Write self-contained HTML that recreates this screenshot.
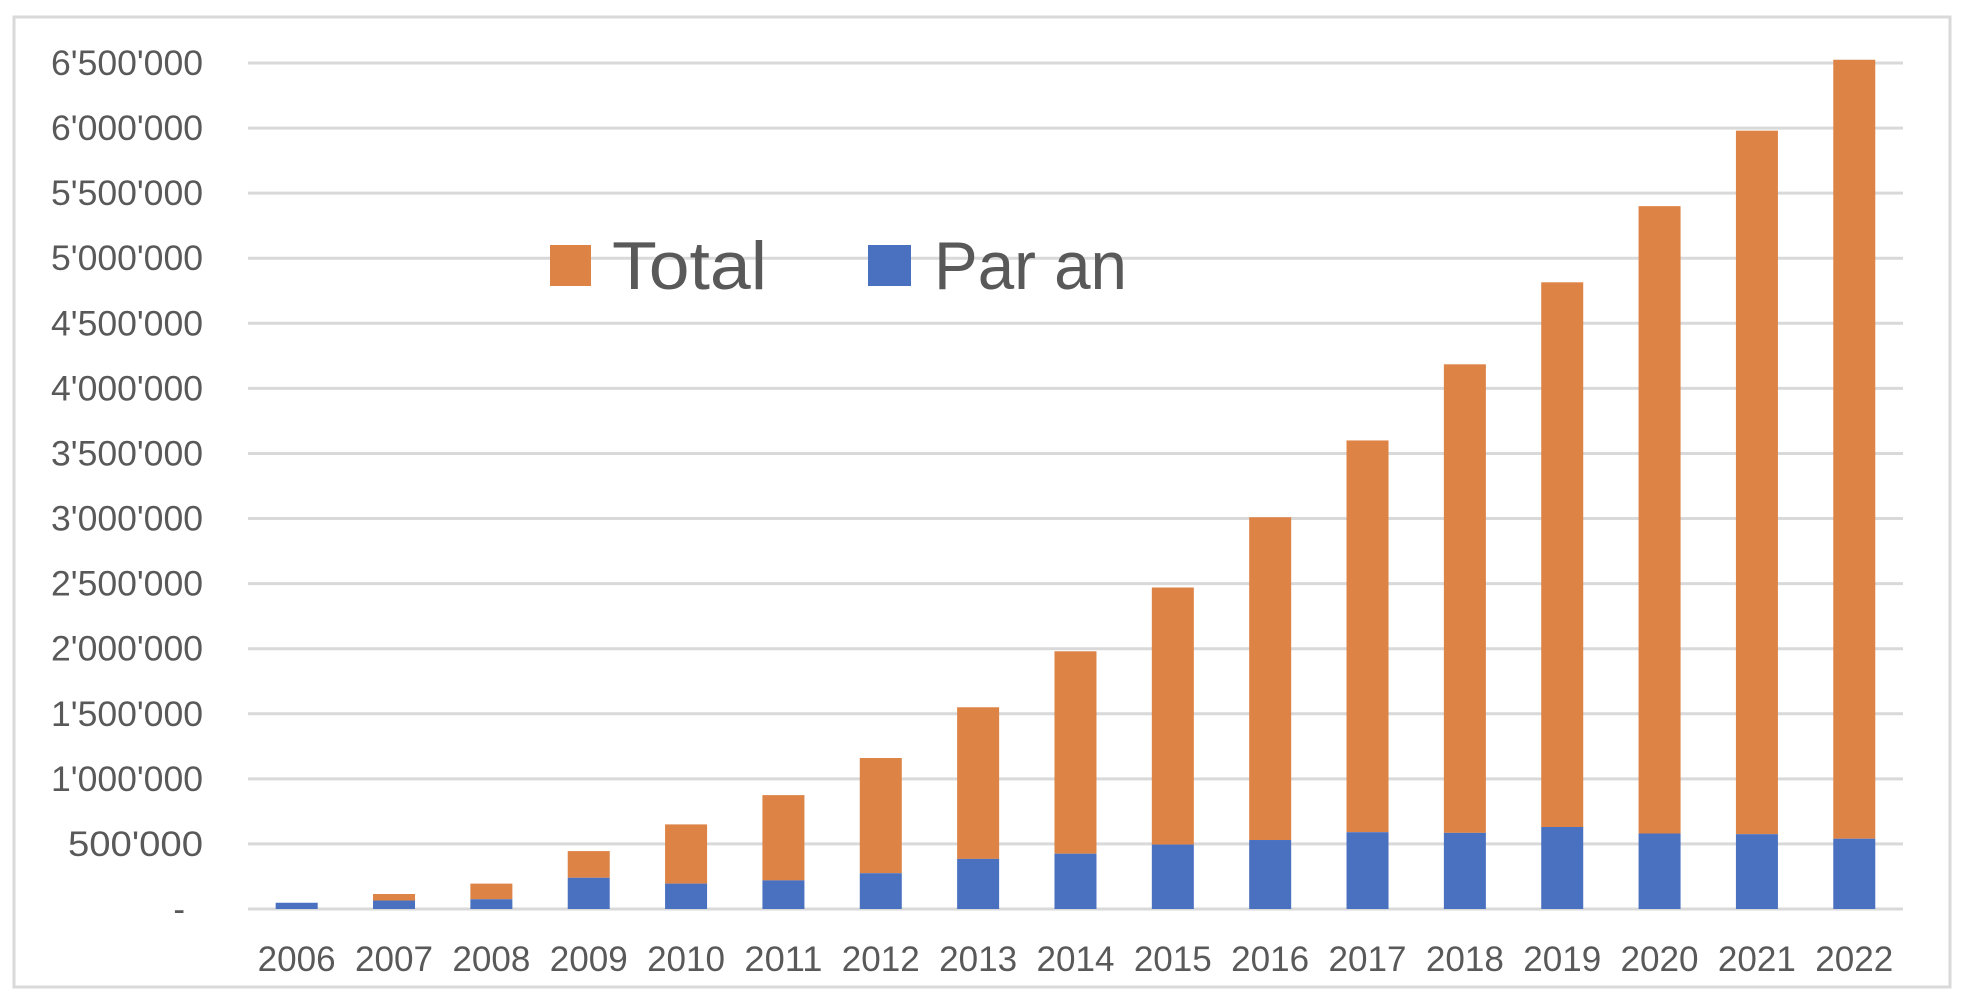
<!DOCTYPE html>
<html><head><meta charset="utf-8"><style>
html,body{margin:0;padding:0;background:#fff;}
svg{display:block;}
text{font-family:"Liberation Sans",sans-serif;fill:#595959;}
</style></head><body>
<svg width="1968" height="1004" viewBox="0 0 1968 1004" xmlns="http://www.w3.org/2000/svg">
<rect x="14" y="17" width="1936" height="970" fill="#fff" stroke="#d9d9d9" stroke-width="3"/>
<g id="grid" stroke="#d9d9d9" stroke-width="3"></g>
<g id="bars"></g>
<g id="lab"></g>
<rect x="550" y="245" width="41" height="41" fill="#dd8345"/>
<text x="612" y="289" font-size="68" textLength="155" lengthAdjust="spacingAndGlyphs">Total</text>
<rect x="868" y="245" width="43" height="41" fill="#4a70c0"/>
<text x="934" y="289" font-size="68" textLength="193" lengthAdjust="spacingAndGlyphs">Par an</text>
</svg>
<script>
const ns="http://www.w3.org/2000/svg";
const base=909, per=846/6500000;
const grid=document.getElementById('grid'), lab=document.getElementById('lab'), bars=document.getElementById('bars');
function el(t,a,p,txt){const e=document.createElementNS(ns,t);for(const k in a)e.setAttribute(k,a[k]);if(txt!==undefined)e.textContent=txt;p.appendChild(e);return e;}
for(let i=0;i<=13;i++){
 const v=i*500000, y=base-v*per;
 el('line',{x1:248,x2:1903,y1:y,y2:y},grid);
 let s;
 if(i===0){s='-';el('text',{x:185,y:y+12,'font-size':35,'text-anchor':'end'},lab,s);continue;}
 s=v.toString().replace(/\B(?=(\d{3})+(?!\d))/g,"'");
 const w=s.length===9?152:135;
 el('text',{x:203,y:y+12,'font-size':35,'text-anchor':'end',textLength:w,lengthAdjust:'spacingAndGlyphs'},lab,s);
}
const blue=[48e3,65e3,75e3,240e3,195e3,220e3,275e3,385e3,425e3,495e3,530e3,590e3,585e3,630e3,580e3,575e3,540e3];
const tot=[48e3,115e3,195e3,445e3,650e3,875e3,1160e3,1550e3,1980e3,2470e3,3010e3,3600e3,4185e3,4815e3,5400e3,5980e3,6525e3];
for(let i=0;i<17;i++){
 const cx=248+97.35*(i+0.5), x=cx-21;
 const hb=blue[i]*per, ht=tot[i]*per;
 if(tot[i]>blue[i]) el('rect',{x:x,y:base-ht,width:42,height:ht-hb,fill:'#dd8345'},bars);
 el('rect',{x:x,y:base-hb,width:42,height:hb,fill:'#4a70c0'},bars);
 el('text',{x:cx,y:971,'font-size':35,'text-anchor':'middle',textLength:78,lengthAdjust:'spacingAndGlyphs'},lab,String(2006+i));
}
</script>
</body></html>
